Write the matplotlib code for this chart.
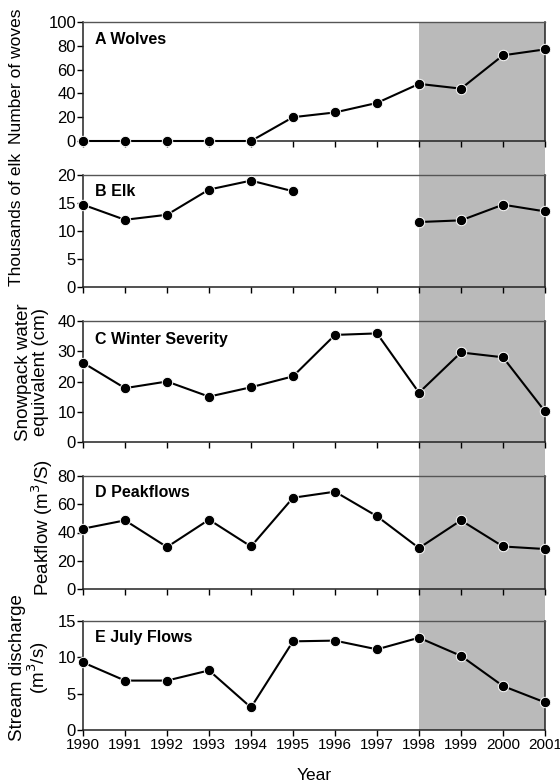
import matplotlib
matplotlib.use("Agg")
import matplotlib.pyplot as plt
import numpy as np

plt.rcParams["font.family"] = ["Liberation Sans", "DejaVu Sans"]

years = list(range(1990, 2002))
wolves = [0, 0, 0, 0, 0, 20, 24, 32, 48, 44, 72, 77]
elk = [14.7, 12.0, 12.9, 17.4, 19.0, 17.1, np.nan, np.nan, 11.6, 11.9, 14.7, 13.5]
snowpack = [26.2, 17.8, 20.0, 15.0, 18.1, 21.7, 35.4, 35.9, 16.3, 29.6, 28.0, 10.1]
peakflow = [42.7, 48.6, 29.7, 49.1, 30.1, 64.6, 68.9, 51.5, 29.0, 48.6, 30.1, 28.3]
july_flow = [9.3, 6.8, 6.8, 8.2, 3.1, 12.2, 12.3, 11.1, 12.7, 10.2, 6.05, 3.8]

series = [wolves, elk, snowpack, peakflow, july_flow]
titles = ["A Wolves", "B Elk", "C Winter Severity", "D Peakflows", "E July Flows"]
ylims = [100, 20, 40, 80, 15]
ysteps = [20, 5, 10, 20, 5]
ylabels = ["Number of woves", "Thousands of elk", "Snowpack water\nequivalent (cm)",
           "Peakflow (m$^3$/S)", "Stream discharge\n(m$^3$/s)"]

W, H = 560, 783
fig = plt.figure(figsize=(W / 100, H / 100), dpi=100)

left, right = 83 / W, 545 / W
# pixel top/bottom of each panel
panels = [(22, 141), (175, 287), (321, 442), (476, 589), (621, 730)]
label_pos = [(17, 76), (17, 219), (32, 372), (42, 527), (30, 668)]
label_size = [12.5, 12.5, 13.5, 13.5, 13.5]

# shaded 1998-2001 band behind all panels
bg = fig.add_axes([left, 1 - 730 / H, right - left, (730 - 22) / H], zorder=0)
bg.set_xlim(1990, 2001)
bg.axvspan(1998, 2001, color="#bababa", lw=0)
bg.axis("off")

for i, (top, bot) in enumerate(panels):
    ax = fig.add_axes([left, 1 - bot / H, right - left, (bot - top) / H], zorder=1)
    ax.patch.set_alpha(0)
    ax.plot(years, series[i], color="black", lw=1.5, marker="o", ms=7.5,
            mfc="black", mec="white", mew=0.7, clip_on=False, zorder=3)
    ax.set_xlim(1990, 2001)
    ax.set_ylim(0, ylims[i])
    ax.set_yticks(np.arange(0, ylims[i] + 1, ysteps[i]))
    ax.set_xticks(years)
    ax.tick_params(direction="out", length=4, width=1, pad=1)
    ax.tick_params(axis="y", labelsize=12)
    ax.tick_params(axis="x", labelsize=11, pad=2)
    if i < 4:
        ax.set_xticklabels([])
    for s in ["left", "bottom", "right"]:
        ax.spines[s].set_color("#222222")
        ax.spines[s].set_linewidth(1.1)
    ax.spines["top"].set_color("#555555")
    ax.spines["top"].set_linewidth(1.0)
    ax.text(0.026, 0.85, titles[i], transform=ax.transAxes, fontsize=11.5,
            fontweight="bold", va="center", ha="left")
    lx, ly = label_pos[i]
    fig.text(lx / W, 1 - ly / H, ylabels[i], rotation=90, ha="center", va="center",
             fontsize=label_size[i], multialignment="center", linespacing=1.0)

fig.text(314 / W, 1 - 775 / H, "Year", ha="center", va="center", fontsize=12.5)

fig.savefig("out.png", dpi=100)
